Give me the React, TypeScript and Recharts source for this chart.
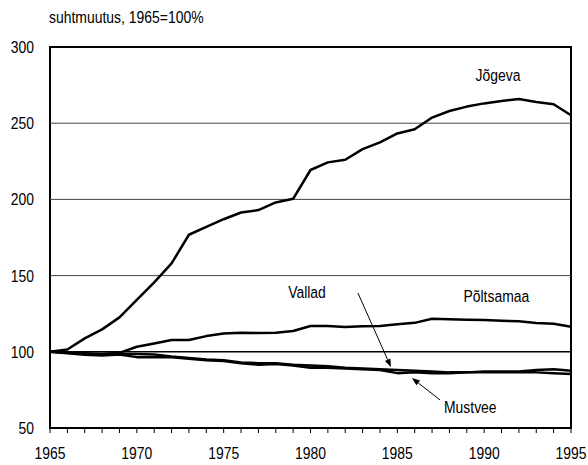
// Jõgeva maakonna rahvastiku suhteline muutus
import { LineChart, Line, XAxis, YAxis, ReferenceLine, ReferenceArea, ReferenceDot } from 'recharts';

const FONT = '"Liberation Sans", Arial, sans-serif';
const SQUEEZE = 0.82; // kitsas kiri nagu originaalis

const years = [
    1965, 1966, 1967, 1968, 1969, 1970, 1971, 1972, 1973, 1974, 1975, 1976, 1977, 1978, 1979, 1980,
    1981, 1982, 1983, 1984, 1985, 1986, 1987, 1988, 1989, 1990, 1991, 1992, 1993, 1994, 1995,
];
const jogeva = [
    100, 101.5, 108.8, 114.7, 122.6, 134, 145.6, 158, 176.8, 182, 187, 191.4, 193, 198, 200.4, 219.3,
    224.3, 226, 233, 237.4, 243.3, 246, 253.7, 258, 260.9, 263, 264.6, 265.9, 263.9, 262.4, 255.2,
];
const poltsamaa = [
    100, 99.5, 99, 98.5, 99.3, 103.3, 105.5, 107.7, 107.7, 110.3, 112, 112.5, 112.3, 112.5, 113.6, 116.9,
    116.9, 116.2, 116.7, 116.9, 118, 119, 121.7, 121.3, 121, 120.8, 120.4, 120, 118.9, 118.4, 116.4,
];
const vallad = [
    100, 99.5, 98.8, 98.5, 98.6, 98.5, 98.3, 97, 96, 95, 94.5, 93, 92.5, 92.5, 91.5, 91,
    90.5, 89.5, 89, 88.5, 88, 87.5, 87, 86.5, 86.5, 87, 87, 87, 88, 88.5, 87.5,
];
const mustvee = [
    100, 99, 98, 97.5, 98.3, 96.5, 96.5, 96.5, 95.5, 94.5, 94, 92.5, 91.5, 92, 91, 89.5,
    89.5, 89, 88.5, 88, 86, 86.5, 86, 86, 86.5, 86.5, 86.5, 86.5, 86.5, 86, 85.5,
];
const yTicks = [50, 100, 150, 200, 250, 300];

// tekstid ja nooled andmeühikutes
const labels = [
    { text: 'Jõgeva', x: 1990.8, y: 281.6 },
    { text: 'Põltsamaa', x: 1990.7, y: 136.6 },
    { text: 'Vallad', x: 1979.8, y: 139.2 },
    { text: 'Mustvee', x: 1989.2, y: 63.8 },
];
const arrows = [
    { from: { x: 1982.73, y: 138.6 }, to: { x: 1984.63, y: 90.0 } },
    { from: { x: 1987.46, y: 68.4 }, to: { x: 1985.84, y: 82.8 } },
];

const data = years.map((year, i) => ({
    year,
    jogeva: jogeva[i],
    poltsamaa: poltsamaa[i],
    vallad: vallad[i],
    mustvee: mustvee[i],
}));

const NarrowText = ({ x, y, anchor, dy, children }: any) => (
    <text
        transform={`translate(${x},${y}) scale(${SQUEEZE},1)`}
        x={0}
        y={0}
        dy={dy}
        textAnchor={anchor}
        fontFamily={FONT}
        fontSize={17}
        fill="#000"
    >
        {children}
    </text>
);

const XTick = (props: any) => {
    const v = props.payload.value;
    if (v % 5 !== 0) return <g />;
    return <NarrowText x={props.x} y={props.y} anchor="middle" dy="0.71em">{v}</NarrowText>;
};

const YTick = (props: any) => (
    <NarrowText x={props.x} y={props.y} anchor="end" dy="0.355em">{props.payload.value}</NarrowText>
);

const Arrow = (props: any) => {
    const { x1, y1, x2, y2 } = props;
    const a = Math.atan2(y2 - y1, x2 - x1);
    const len = 8;
    const w = 3;
    const bx = x2 - len * Math.cos(a);
    const by = y2 - len * Math.sin(a);
    const p1 = `${bx + w * Math.sin(a)},${by - w * Math.cos(a)}`;
    const p2 = `${bx - w * Math.sin(a)},${by + w * Math.cos(a)}`;
    return (
        <g>
            <line x1={x1} y1={y1} x2={bx} y2={by} stroke="#000" strokeWidth={1} />
            <polygon points={`${x2},${y2} ${p1} ${p2}`} fill="#000" />
        </g>
    );
};

export default function App() {
    return (
        <div style={{ position: 'absolute', left: 0, top: 0, width: 588, height: 465, background: '#fff' }}>
            <div
                style={{
                    position: 'absolute',
                    left: 49,
                    top: 8,
                    fontFamily: FONT,
                    fontSize: 17,
                    lineHeight: '20px',
                    color: '#000',
                    transform: `scaleX(${SQUEEZE})`,
                    transformOrigin: 'left center',
                    whiteSpace: 'nowrap',
                }}
            >
                suhtmuutus, 1965=100%
            </div>
            <LineChart width={588} height={465} data={data} margin={{ top: 47, right: 17, left: 0, bottom: 7 }}>
                <XAxis
                    dataKey="year"
                    type="number"
                    domain={[1965, 1995]}
                    ticks={years}
                    interval={0}
                    tick={<XTick />}
                    tickSize={5}
                    tickMargin={14}
                    tickLine={{ stroke: '#000' }}
                    axisLine={false}
                    height={30}
                />
                <YAxis
                    domain={[50, 300]}
                    ticks={yTicks}
                    interval={0}
                    tick={<YTick />}
                    tickLine={false}
                    axisLine={false}
                    tickMargin={10}
                    width={50}
                />
                <ReferenceLine y={150} stroke="#444" strokeWidth={1} />
                <ReferenceLine y={200} stroke="#444" strokeWidth={1} />
                <ReferenceLine y={250} stroke="#444" strokeWidth={1} />
                <ReferenceLine y={100} stroke="#000" strokeWidth={1.5} />
                <ReferenceArea x1={1965} x2={1995} y1={50} y2={300} fill="none" stroke="#000" strokeWidth={2} fillOpacity={0} />
                <Line type="linear" dataKey="poltsamaa" stroke="#000" strokeWidth={2.5} dot={false} activeDot={false} isAnimationActive={false} strokeLinejoin="round" />
                <Line type="linear" dataKey="vallad" stroke="#000" strokeWidth={2.5} dot={false} activeDot={false} isAnimationActive={false} strokeLinejoin="round" />
                <Line type="linear" dataKey="mustvee" stroke="#000" strokeWidth={2.5} dot={false} activeDot={false} isAnimationActive={false} strokeLinejoin="round" />
                <Line type="linear" dataKey="jogeva" stroke="#000" strokeWidth={2.5} dot={false} activeDot={false} isAnimationActive={false} strokeLinejoin="round" />
                {arrows.map((a, i) => (
                    <ReferenceLine key={i} segment={[a.from, a.to]} shape={<Arrow />} ifOverflow="visible" />
                ))}
                {labels.map(l => (
                    <ReferenceDot
                        key={l.text}
                        x={l.x}
                        y={l.y}
                        r={0}
                        ifOverflow="visible"
                        shape={(p: any) => (
                            <NarrowText x={p.cx} y={p.cy} anchor="middle" dy="0.355em">{l.text}</NarrowText>
                        )}
                    />
                ))}
            </LineChart>
        </div>
    );
}
